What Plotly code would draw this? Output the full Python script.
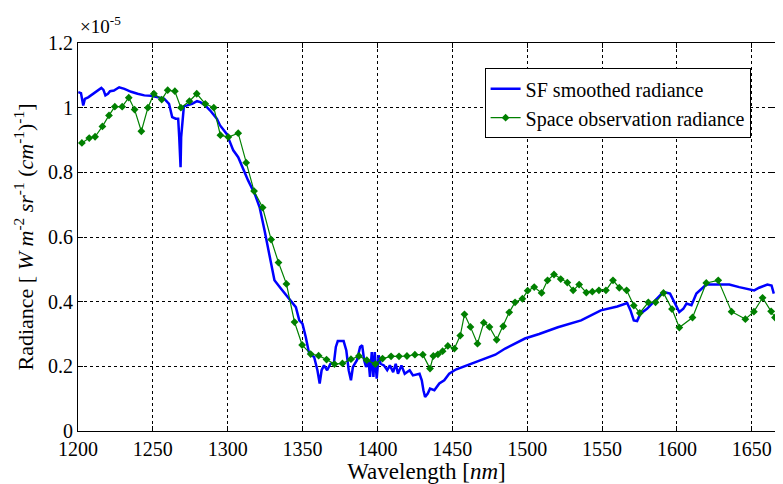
import plotly.graph_objects as go

# SF smoothed radiance (blue), x10^-5
sf_wl = [1200.2, 1202.0, 1203.5, 1204.6, 1206.8, 1209.0, 1211.7, 1215.6, 1217.0, 1218.3,
         1220.0, 1221.4, 1224.0, 1227.5, 1231.0, 1235.5, 1239.8, 1244.3, 1248.7, 1253.0,
         1257.5, 1260.8, 1262.9, 1265.2, 1266.9, 1267.6, 1268.2, 1268.5, 1268.9, 1269.8,
         1270.7, 1272.9, 1276.2, 1279.5, 1281.7, 1285.0, 1288.3, 1292.7, 1294.9, 1299.3,
         1303.7, 1307.0, 1313.6, 1318.0, 1321.3, 1324.6, 1327.9, 1331.2, 1335.6, 1341.1,
         1345.5, 1347.8, 1349.9, 1352.1, 1354.4, 1357.7, 1359.9, 1361.4, 1362.7, 1364.3,
         1366.4, 1368.6, 1370.9, 1372.2, 1373.5, 1377.4, 1379.2, 1380.8, 1382.3, 1383.6,
         1386.3, 1388.4, 1389.8, 1391.1, 1392.4, 1394.0, 1395.0, 1396.2, 1397.3, 1398.2,
         1399.5, 1400.8, 1402.1, 1404.3, 1406.5, 1408.3, 1410.5, 1412.2, 1413.7, 1416.0,
         1418.2, 1421.5, 1423.7, 1428.1, 1429.6, 1430.7, 1431.8, 1433.6, 1435.1, 1438.0,
         1441.3, 1444.6, 1447.9, 1452.3, 1456.7, 1465.5, 1472.1, 1478.7, 1485.3, 1498.5,
         1508.0, 1520.5, 1536.0, 1549.2, 1560.2, 1566.8, 1569.0, 1571.2, 1573.4, 1575.6,
         1580.0, 1585.5, 1591.0, 1595.4, 1598.8, 1601.6, 1604.3, 1606.4, 1609.7, 1613.0,
         1619.6, 1635.0, 1641.6, 1646.0, 1651.6, 1654.9, 1660.4, 1663.2, 1664.7]
sf_val = [1.048, 1.045, 1.007, 1.027, 1.032, 1.039, 1.049, 1.061, 1.055, 1.038,
          1.043, 1.051, 1.053, 1.063, 1.058, 1.049, 1.043, 1.038, 1.037, 1.032,
          1.028, 1.012, 0.971, 0.966, 0.966, 0.909, 0.850, 0.816, 0.909, 0.960,
          1.004, 1.007, 1.012, 1.020, 1.017, 1.007, 0.991, 0.966, 0.945, 0.919,
          0.868, 0.847, 0.775, 0.734, 0.692, 0.620, 0.548, 0.466, 0.440, 0.409,
          0.383, 0.342, 0.332, 0.291, 0.239, 0.229, 0.188, 0.147, 0.188, 0.203,
          0.188, 0.208, 0.210, 0.260, 0.278, 0.278, 0.249, 0.188, 0.157, 0.198,
          0.219, 0.260, 0.265, 0.219, 0.198, 0.219, 0.167, 0.244, 0.167, 0.244,
          0.162, 0.234, 0.208, 0.203, 0.188, 0.203, 0.182, 0.208, 0.177, 0.203,
          0.177, 0.188, 0.172, 0.177, 0.157, 0.126, 0.105, 0.116, 0.131, 0.126,
          0.147, 0.157, 0.177, 0.190, 0.198, 0.214, 0.226, 0.236, 0.255, 0.286,
          0.300, 0.321, 0.342, 0.373, 0.385, 0.396, 0.373, 0.342, 0.340, 0.363,
          0.378, 0.404, 0.430, 0.425, 0.394, 0.368, 0.378, 0.394, 0.389, 0.425,
          0.453, 0.453, 0.445, 0.440, 0.435, 0.443, 0.453, 0.450, 0.425]

# Space observation radiance (green), x10^-5
obs_wl = [1202.6, 1207.5, 1211.4, 1216.3, 1220.7, 1224.6, 1229.5, 1233.9, 1237.8, 1242.3,
          1246.7, 1250.7, 1255.9, 1259.9, 1264.7, 1268.7, 1274.4, 1279.3, 1285.0, 1290.7,
          1295.1, 1300.4, 1307.0, 1312.3, 1317.6, 1323.3, 1329.0, 1333.9, 1339.2, 1344.6,
          1349.7, 1355.4, 1360.7, 1366.0, 1371.3, 1376.6, 1382.3, 1387.6, 1392.9, 1398.6,
          1403.4, 1409.1, 1414.4, 1419.7, 1425.0, 1430.3, 1435.1, 1437.3, 1440.4, 1443.5,
          1447.0, 1451.4, 1455.3, 1458.1, 1462.1, 1466.8, 1471.0, 1474.8, 1479.6, 1484.0,
          1488.0, 1491.9, 1496.8, 1500.3, 1504.7, 1509.6, 1513.6, 1517.9, 1522.4, 1526.8,
          1530.7, 1534.7, 1539.5, 1543.5, 1547.9, 1552.6, 1557.3, 1561.5, 1566.4, 1571.2,
          1575.2, 1580.9, 1585.7, 1591.0, 1596.7, 1601.6, 1610.4, 1619.6, 1627.6, 1636.5,
          1645.7, 1651.4, 1657.2, 1662.9, 1665.5]
obs_val = [0.891, 0.906, 0.910, 0.942, 0.976, 1.003, 1.003, 1.031, 0.994, 0.927,
           1.000, 1.043, 1.025, 1.054, 1.051, 1.000, 1.020, 1.043, 1.012, 1.000,
           0.915, 0.909, 0.921, 0.830, 0.742, 0.691, 0.592, 0.521, 0.455, 0.337,
           0.266, 0.238, 0.233, 0.221, 0.207, 0.209, 0.222, 0.232, 0.219, 0.207,
           0.224, 0.231, 0.231, 0.232, 0.236, 0.236, 0.193, 0.232, 0.237, 0.247,
           0.263, 0.255, 0.295, 0.361, 0.322, 0.270, 0.335, 0.322, 0.282, 0.324,
           0.367, 0.398, 0.409, 0.434, 0.445, 0.427, 0.466, 0.484, 0.470, 0.459,
           0.435, 0.453, 0.428, 0.431, 0.435, 0.435, 0.466, 0.443, 0.435, 0.388,
           0.365, 0.398, 0.398, 0.427, 0.377, 0.320, 0.351, 0.458, 0.466, 0.369,
           0.346, 0.369, 0.412, 0.370, 0.351]

x_ticks = [1200, 1250, 1300, 1350, 1400, 1450, 1500, 1550, 1600, 1650]
y_ticks = [0, 0.2, 0.4, 0.6, 0.8, 1.0, 1.2]
y_tick_text = ["0", "0.2", "0.4", "0.6", "0.8", "1", "1.2"]

FONT = "'Liberation Serif', 'Times New Roman', Tinos, 'DejaVu Serif', 'Noto Serif', serif"

fig = go.Figure()
fig.add_trace(go.Scatter(x=sf_wl, y=sf_val, mode="lines", name="SF smoothed radiance",
                         line=dict(color="#0000ff", width=2.5)))
fig.add_trace(go.Scatter(x=obs_wl, y=obs_val, mode="lines+markers", name="Space observation radiance",
                         line=dict(color="#008000", width=1.2),
                         marker=dict(symbol="diamond", size=6, color="#008000")))

axis_common = dict(showline=True, linecolor="black", linewidth=1, mirror="allticks",
                   ticks="inside", ticklen=5, tickcolor="black",
                   showgrid=True, gridcolor="black", gridwidth=1, griddash="3px,3px",
                   zeroline=False, automargin=False,
                   tickfont=dict(family=FONT, size=20, color="black"))

fig.update_xaxes(range=[1200, 1665.5], tickvals=x_ticks,
                 title=dict(text="Wavelength [<i>nm</i>]", font=dict(family=FONT, size=23, color="black"),
                            standoff=0),
                 **axis_common)
fig.update_yaxes(range=[0, 1.2], tickvals=y_ticks, ticktext=y_tick_text,
                 title=dict(text="Radiance [ <i>W m</i><sup>-2</sup> <i>sr</i><sup>-1</sup> (<i>cm</i><sup>-1</sup>)<sup>-1</sup>]",
                            font=dict(family=FONT, size=22, color="black"), standoff=8),
                 **axis_common)

fig.add_annotation(xref="paper", yref="paper", x=0, y=1.0, yshift=4, xanchor="left", yanchor="bottom",
                   text="×10<sup>-5</sup>", showarrow=False,
                   font=dict(family=FONT, size=19, color="black"))

# page body has an 8px margin: figure is sized/offset so plot area lands at x 78..775, y 42.7..430.7
fig.update_layout(
    width=767, height=476,
    margin=dict(l=70, r=0, t=35, b=53),
    paper_bgcolor="white", plot_bgcolor="white",
    font=dict(family=FONT, color="black"),
    legend=dict(x=0.965, y=0.935, xanchor="right", yanchor="top",
                bgcolor="white", bordercolor="black", borderwidth=1,
                font=dict(family=FONT, size=20, color="black"),
                tracegroupgap=0),
    showlegend=True,
)

fig.write_html("out.html")
